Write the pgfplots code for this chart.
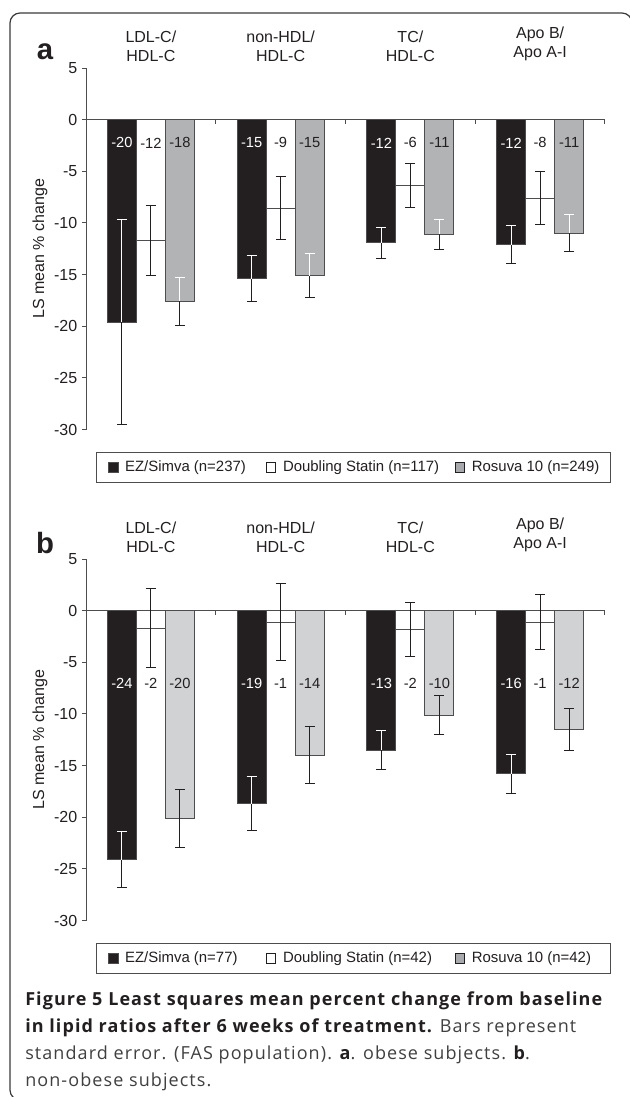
\documentclass[border=0pt]{standalone}
\usepackage{fontspec}
\setmainfont{Liberation Sans}
\newfontfamily\capfont[LetterSpace=6]{Open Sans}
\usepackage{pgfplots}
\usepackage{pgfplotstable}
\pgfplotsset{compat=1.18}

\definecolor{barblack}{HTML}{231F20}
\definecolor{grayA}{HTML}{B2B3B5}
\definecolor{grayB}{HTML}{D1D2D4}
\definecolor{leggray}{HTML}{A7A9AC}
\definecolor{axisgray}{HTML}{4D4D4F}
\definecolor{framecol}{HTML}{3A3A3A}
\definecolor{captext}{HTML}{404040}

% x  EZ/Simva  err  Doubling  err  Rosuva  err
\pgfplotstableread{
x ez ezerr ds dserr ro roerr
0 -19.6 9.9  -11.7 3.4  -17.6 2.3
1 -15.4 2.2  -8.6  3.05 -15.1 2.1
2 -11.9 1.5  -6.4  2.15 -11.1 1.45
3 -12.1 1.85 -7.6  2.55 -11.0 1.8
}\obese
\pgfplotstableread{
x ez ezerr ds dserr ro roerr
0 -24.1 2.75 -1.7 3.8  -20.1 2.8
1 -18.7 2.6  -1.1 3.75 -14.0 2.75
2 -13.5 1.85 -1.8 2.6  -10.1 1.9
3 -15.8 1.9  -1.1 2.7  -11.5 2.05
}\nonobese

\newcommand\tickfont{\fontsize{12}{12}\selectfont}
\newcommand\catfont{\fontsize{12}{14.25}\selectfont}
\newcommand\valfont{\fontsize{11}{11}\selectfont}
\newcommand\legfont{\fontsize{11.2}{11.2}\selectfont}

\tikzset{
  catlbl/.style={anchor=south, align=center, font=\catfont, text=barblack, yshift=1.5pt},
  panellbl/.style={font=\fontsize{22}{22}\selectfont\bfseries, text=barblack},
}

\pgfplotsset{
  panel/.style={
    scale only axis, width=389.25pt, height=271.125pt,
    xmin=-0.5, xmax=3.5, ymin=-30, ymax=5,
    clip=false,
    axis y line*=left, axis x line*=middle,
    axis line style={draw=axisgray, line width=0.75pt},
    ytick={-30,-25,...,5},
    xtick={-0.5,0.5,1.5,2.5,3.5}, xticklabels={},
    tick align=outside, major tick length=3pt,
    tick style={draw=axisgray, line width=0.75pt},
    yticklabel style={font=\tickfont, text=barblack},
    /pgf/number format/assume math mode=true,
    ylabel={LS mean \% change},
    ylabel style={at={(axis description cs:-0.0886,0.5)}, anchor=center, font=\catfont, text=barblack},
    legend columns=3,
    legend cell align=left,
    legend style={at={(axis description cs:0.0187,-0.0614)}, anchor=north west,
      draw=axisgray, line width=0.75pt, inner xsep=9pt, inner ysep=6.5pt,
      column sep=0pt, nodes={inner sep=0pt}, font=\legfont, text=barblack},
    legend image code/.code={\draw[#1, line width=0.6pt] (0pt,-3.5pt) rectangle (7pt,3.5pt); \path (12pt,0pt);},
  },
  bars/.style={ybar, bar width=21.75pt, bar shift=#1, forget plot, line width=0.6pt, draw=axisgray},
  errdown/.style={error bars/.cd, y dir=minus, y explicit,
    error bar style={draw=barblack, line width=0.75pt, xshift=#1},
    error mark options={rotate=90, draw=barblack, mark size=3.75pt, line width=0.75pt}},
  errboth/.style={error bars/.cd, y dir=both, y explicit,
    error bar style={draw=barblack, line width=0.75pt, xshift=#1},
    error mark options={rotate=90, draw=barblack, mark size=3.75pt, line width=0.75pt}},
  errup/.style={ybar, bar width=21.75pt, bar shift=#1, forget plot, draw=none, fill=none,
    error bars/.cd, y dir=plus, y explicit,
    error bar style={draw=white, line width=0.75pt, xshift=#1},
    error mark options={rotate=90, draw=white, mark size=3.75pt, line width=0.75pt}},
  vals/.style={draw=none, mark=none, forget plot, nodes near coords, point meta=explicit symbolic,
    nodes near coords style={anchor=center, font=\valfont, text=#1}},
}

\begin{document}
\begin{tikzpicture}
\useasboundingbox (0pt,0pt) rectangle (471.75pt,-822.75pt);
\draw[framecol, line width=0.9pt, rounded corners=7.5pt]
  (474pt,-40pt) -- (474pt,-9.75pt) -- (7.5pt,-9.75pt) -- (7.5pt,-825pt) -- (60pt,-825pt);

% ---------- panel a ----------
\begin{axis}[panel, at={(64.5pt,-322.125pt)}, anchor=south west]
\addlegendimage{fill=barblack, draw=axisgray}
\addlegendentry{\makebox[105.75pt][l]{EZ/Simva (n=237)}}
\addlegendimage{fill=white, draw=barblack}
\addlegendentry{\makebox[129pt][l]{Doubling Statin (n=117)}}
\addlegendimage{fill=leggray, draw=barblack}
\addlegendentry{\makebox[95.25pt][l]{Rosuva 10 (n=249)}}

\addplot[bars=-21.75pt, fill=barblack, errdown=-21.75pt] table[x=x, y=ez, y error=ezerr]{\obese};
\addplot[bars=0pt, fill=white, errboth=0pt] table[x=x, y=ds, y error=dserr]{\obese};
\addplot[bars=21.75pt, fill=grayA, errdown=21.75pt] table[x=x, y=ro, y error=roerr]{\obese};
\addplot[errup=-21.75pt] table[x=x, y=ez, y error=ezerr]{\obese};
\addplot[errup=21.75pt] table[x=x, y=ro, y error=roerr]{\obese};

\addplot[vals=white, nodes near coords style={xshift=-21.75pt}] coordinates {(0,-2.25)[-20] (1,-2.25)[-15] (2,-2.25)[-12] (3,-2.25)[-12]};
\addplot[vals=barblack] coordinates {(0,-2.25)[-12] (1,-2.25)[-9] (2,-2.25)[-6] (3,-2.25)[-8]};
\addplot[vals=barblack, nodes near coords style={xshift=21.75pt}] coordinates {(0,-2.25)[-18] (1,-2.25)[-15] (2,-2.25)[-11] (3,-2.25)[-11]};

\node[catlbl] at (axis cs:0,5) {LDL-C/\\HDL-C};
\node[catlbl] at (axis cs:1,5) {non-HDL/\\HDL-C};
\node[catlbl] at (axis cs:2,5) {TC/\\HDL-C};
\node[catlbl] at (axis cs:3,5) {Apo B/\\Apo A-I};
\node[panellbl] at (axis description cs:-0.079,1.045) {a};
\end{axis}

% ---------- panel b ----------
\begin{axis}[panel, at={(64.5pt,-690.375pt)}, anchor=south west]
\addlegendimage{fill=barblack, draw=axisgray}
\addlegendentry{\makebox[105.75pt][l]{EZ/Simva (n=77)}}
\addlegendimage{fill=white, draw=barblack}
\addlegendentry{\makebox[129pt][l]{Doubling Statin (n=42)}}
\addlegendimage{fill=leggray, draw=barblack}
\addlegendentry{\makebox[95.25pt][l]{Rosuva 10 (n=42)}}

\addplot[bars=-21.75pt, fill=barblack, errdown=-21.75pt] table[x=x, y=ez, y error=ezerr]{\nonobese};
\addplot[bars=0pt, fill=white, errboth=0pt] table[x=x, y=ds, y error=dserr]{\nonobese};
\addplot[bars=21.75pt, fill=grayB, errboth=21.75pt] table[x=x, y=ro, y error=roerr]{\nonobese};
\addplot[errup=-21.75pt] table[x=x, y=ez, y error=ezerr]{\nonobese};

\addplot[vals=white, nodes near coords style={xshift=-21.75pt}] coordinates {(0,-7.05)[-24] (1,-7.05)[-19] (2,-7.05)[-13] (3,-7.05)[-16]};
\addplot[vals=barblack] coordinates {(0,-7.05)[-2] (1,-7.05)[-1] (2,-7.05)[-2] (3,-7.05)[-1]};
\addplot[vals=barblack, nodes near coords style={xshift=21.75pt}] coordinates {(0,-7.05)[-20] (1,-7.05)[-14] (2,-7.05)[-10] (3,-7.05)[-12]};

\node[catlbl] at (axis cs:0,5) {LDL-C/\\HDL-C};
\node[catlbl] at (axis cs:1,5) {non-HDL/\\HDL-C};
\node[catlbl] at (axis cs:2,5) {TC/\\HDL-C};
\node[catlbl] at (axis cs:3,5) {Apo B/\\Apo A-I};
\node[panellbl] at (axis description cs:-0.079,1.045) {b};
\end{axis}

% ---------- caption ----------
\begin{scope}[every node/.style={anchor=base west, inner sep=0pt, font=\capfont\fontsize{13.5}{13.5}\selectfont, text=captext}]
\node at (18.75pt,-754.3pt) {\textcolor{barblack}{\bfseries Figure 5 Least squares mean percent change from baseline}};
\node at (18.75pt,-774.2pt) {\textcolor{barblack}{\bfseries in lipid ratios after 6 weeks of treatment.} Bars represent};
\node at (18.75pt,-794.25pt) {standard error. (FAS population). \textcolor{barblack}{\bfseries a}. obese subjects. \textcolor{barblack}{\bfseries b}.};
\node at (18.75pt,-814.5pt) {non-obese subjects.};
\end{scope}
\end{tikzpicture}
\end{document}
